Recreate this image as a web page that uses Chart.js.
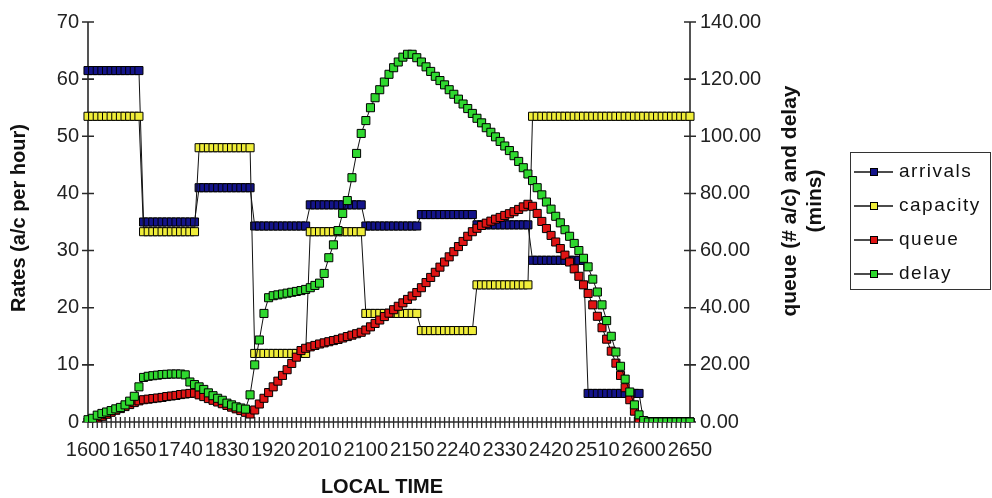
<!DOCTYPE html>
<html>
<head>
<meta charset="utf-8">
<script src="https://cdn.jsdelivr.net/npm/chart.js@4/dist/chart.umd.min.js"></script>
<style>
html,body{margin:0;padding:0;background:#fff;}
#wrap{width:992px;height:498px;}
</style>
</head>
<body>
<div id="wrap"><canvas id="c" width="992" height="498"></canvas></div>
<script>
// Local time categories (5-minute steps)
const timeLabels = [
'1600','1605','1610','1615','1620','1625','1630','1635','1640','1645','1650','1655',
'1700','1705','1710','1715','1720','1725','1730','1735','1740','1745','1750','1755',
'1800','1805','1810','1815','1820','1825','1830','1835','1840','1845','1850','1855',
'1900','1905','1910','1915','1920','1925','1930','1935','1940','1945','1950','1955',
'2000','2005','2010','2015','2020','2025','2030','2035','2040','2045','2050','2055',
'2100','2105','2110','2115','2120','2125','2130','2135','2140','2145','2150','2155',
'2200','2205','2210','2215','2220','2225','2230','2235','2240','2245','2250','2255',
'2300','2305','2310','2315','2320','2325','2330','2335','2340','2345','2350','2355',
'2400','2405','2410','2415','2420','2425','2430','2435','2440','2445','2450','2455',
'2500','2505','2510','2515','2520','2525','2530','2535','2540','2545','2550','2555',
'2600','2605','2610','2615','2620','2625','2630','2635','2640','2645','2650'
];

// Rates (a/c per hour) - left axis
const arrivals = [
61.5,61.5,61.5,61.5,61.5,61.5,61.5,61.5,61.5,61.5,61.5,61.5,
35,35,35,35,35,35,35,35,35,35,35,35,
41,41,41,41,41,41,41,41,41,41,41,41,
34.3,34.3,34.3,34.3,34.3,34.3,34.3,34.3,34.3,34.3,34.3,34.3,
38,38,38,38,38,38,38,38,38,38,38,38,
34.3,34.3,34.3,34.3,34.3,34.3,34.3,34.3,34.3,34.3,34.3,34.3,
36.3,36.3,36.3,36.3,36.3,36.3,36.3,36.3,36.3,36.3,36.3,36.3,
34.5,34.5,34.5,34.5,34.5,34.5,34.5,34.5,34.5,34.5,34.5,34.5,
28.3,28.3,28.3,28.3,28.3,28.3,28.3,28.3,28.3,28.3,28.3,28.3,
5,5,5,5,5,5,5,5,5,5,5,5,
0,0,0,0,0,0,0,0,0,0,0
];
const capacity = [
53.5,53.5,53.5,53.5,53.5,53.5,53.5,53.5,53.5,53.5,53.5,53.5,
33.3,33.3,33.3,33.3,33.3,33.3,33.3,33.3,33.3,33.3,33.3,33.3,
48,48,48,48,48,48,48,48,48,48,48,48,
12,12,12,12,12,12,12,12,12,12,12,12,
33.3,33.3,33.3,33.3,33.3,33.3,33.3,33.3,33.3,33.3,33.3,33.3,
19,19,19,19,19,19,19,19,19,19,19,19,
16,16,16,16,16,16,16,16,16,16,16,16,
24,24,24,24,24,24,24,24,24,24,24,24,
53.5,53.5,53.5,53.5,53.5,53.5,53.5,53.5,53.5,53.5,53.5,53.5,
53.5,53.5,53.5,53.5,53.5,53.5,53.5,53.5,53.5,53.5,53.5,53.5,
53.5,53.5,53.5,53.5,53.5,53.5,53.5,53.5,53.5,53.5,53.5
];

// queue (# a/c) and delay (mins) - right axis
const queue = [
0,0.7,1.4,2.0,2.7,3.4,4.1,4.7,5.4,6.1,6.8,7.4,
7.8,8.0,8.2,8.4,8.6,8.9,9.1,9.3,9.6,9.8,10.0,10.1,
9.5,8.9,8.2,7.6,7.0,6.4,5.8,5.2,4.6,4.0,3.4,2.8,
4.2,6.3,8.3,10.3,12.3,14.3,16.3,18.3,20.5,22.7,25.0,25.8,
26.3,26.8,27.3,27.7,28.1,28.5,28.9,29.4,29.9,30.4,30.9,31.4,
32.2,33.3,34.5,35.7,36.9,38.1,39.3,40.5,41.7,42.9,44.1,45.3,
47.0,48.8,50.6,52.4,54.2,56.0,57.8,59.6,61.4,63.2,65.0,66.6,
67.8,68.8,69.6,70.3,71.0,71.6,72.3,72.9,73.6,74.4,75.3,76.2,
75.5,73.0,70.2,67.7,65.3,63.0,60.7,58.4,56.0,53.6,51.0,48.0,
45.0,41.0,37.0,33.0,29.0,24.8,20.6,16.3,12.0,7.8,3.8,0.8,
0,0,0,0,0,0,0,0,0,0,0
];
const delay = [
0.8,1.3,2.4,3.0,3.5,4.0,4.6,5.1,6.0,7.3,9.0,12.3,
15.6,16.0,16.2,16.4,16.6,16.7,16.8,16.8,16.8,16.5,14.0,13.1,
12.3,11.4,10.2,9.2,8.3,7.6,6.6,6.0,5.3,4.9,4.5,9.5,
20.0,28.7,38.0,43.5,44.2,44.5,44.8,45.1,45.4,45.7,46.0,46.4,
47.0,47.8,48.6,52.0,57.5,62.0,67.0,73.0,77.5,85.5,94.0,101.0,
105.5,110.0,113.5,116.3,119.0,121.7,124.0,126.0,127.7,128.7,128.7,127.5,
126.0,124.3,122.7,121.0,119.5,118.0,116.3,114.7,113.0,111.3,109.7,108.0,
106.3,104.7,103.0,101.4,99.8,98.2,96.6,95.0,93.2,91.2,89.0,86.8,
84.5,82.0,79.5,77.0,74.5,72.0,69.7,67.3,65.0,62.5,60.0,57.3,
54.3,50.0,45.5,41.0,35.5,30.0,24.5,19.5,15.0,10.5,6.0,2.5,
0.5,0,0,0,0,0,0,0,0,0,0
];

const seriesNames = ['arrivals','capacity','queue','delay'];
const seriesColors = ['#14148a','#f0ee3a','#e01414','#2fd82f'];
const leftTitle = 'Rates (a/c per hour)';
const rightTitle1 = 'queue (# a/c) and delay';
const rightTitle2 = '(mins)';
const xTitle = 'LOCAL TIME';

const FONT = "'Liberation Sans', Arial, sans-serif";

const deco = {
  id: 'deco',
  beforeDatasetsDraw(chart) {
    const {ctx, chartArea: ca, scales} = chart;
    ctx.save();
    ctx.strokeStyle = '#2a2a2a';
    ctx.lineWidth = 1.6;
    ctx.beginPath();
    ctx.moveTo(ca.left, ca.top); ctx.lineTo(ca.left, ca.bottom);
    ctx.moveTo(ca.right, ca.top); ctx.lineTo(ca.right, ca.bottom);
    ctx.moveTo(ca.left, ca.bottom); ctx.lineTo(ca.right, ca.bottom);
    ctx.stroke();
    ctx.beginPath();
    scales.y.ticks.forEach(t => {
      const y = scales.y.getPixelForValue(t.value);
      ctx.moveTo(ca.left - 6, y); ctx.lineTo(ca.left + 6, y);
    });
    scales.y1.ticks.forEach(t => {
      const y = scales.y1.getPixelForValue(t.value);
      ctx.moveTo(ca.right - 6, y); ctx.lineTo(ca.right + 6, y);
    });
    ctx.stroke();
    ctx.lineWidth = 1.3;
    ctx.beginPath();
    scales.x.ticks.forEach((t, i) => {
      const x = scales.x.getPixelForTick(i);
      ctx.moveTo(x, ca.bottom - 5); ctx.lineTo(x, ca.bottom + 6);
    });
    ctx.stroke();
    ctx.restore();
  },
  afterDraw(chart) {
    const {ctx} = chart;
    ctx.save();
    ctx.fillStyle = '#111';
    ctx.textAlign = 'center';
    ctx.textBaseline = 'middle';
    ctx.font = 'bold 20px ' + FONT;
    // left title
    ctx.save(); ctx.translate(19, 218); ctx.rotate(-Math.PI / 2); ctx.fillText(leftTitle, 0, 0); ctx.restore();
    // right title (two lines)
    ctx.font = 'bold 21px ' + FONT;
    ctx.save(); ctx.translate(790, 201); ctx.rotate(-Math.PI / 2); ctx.fillText(rightTitle1, 0, 0); ctx.restore();
    ctx.save(); ctx.translate(815, 201); ctx.rotate(-Math.PI / 2); ctx.fillText(rightTitle2, 0, 0); ctx.restore();
    // x title
    ctx.font = 'bold 20px ' + FONT;
    ctx.fillText(xTitle, 382, 487);
    // legend
    ctx.strokeStyle = '#333';
    ctx.lineWidth = 1;
    ctx.strokeRect(850.5, 152.5, 140, 137);
    const rows = [172, 206, 240, 274];
    ctx.textAlign = 'left';
    ctx.font = '19px ' + FONT;
    try { ctx.letterSpacing = '1.5px'; } catch (e) {}
    seriesNames.forEach((name, k) => {
      const y = rows[k];
      ctx.strokeStyle = '#111';
      ctx.lineWidth = 1.5;
      ctx.beginPath(); ctx.moveTo(854, y); ctx.lineTo(893, y); ctx.stroke();
      ctx.fillStyle = seriesColors[k];
      ctx.fillRect(870.5, y - 3.5, 7, 7);
      ctx.lineWidth = 1;
      ctx.strokeStyle = '#000';
      ctx.strokeRect(870.5, y - 3.5, 7, 7);
      ctx.fillStyle = '#111';
      ctx.fillText(name, 899, y);
    });
    ctx.restore();
  }
};

function ds(k, data, axis, order) {
  return {
    label: seriesNames[k],
    data: data,
    yAxisID: axis,
    order: order,
    borderColor: '#111',
    borderWidth: 1,
    backgroundColor: seriesColors[k],
    pointStyle: 'rect',
    pointRadius: 5.7,
    pointBackgroundColor: seriesColors[k],
    pointBorderColor: '#000',
    pointBorderWidth: 1,
    tension: 0,
    fill: false
  };
}

new Chart(document.getElementById('c'), {
  type: 'line',
  data: {
    labels: timeLabels,
    datasets: [
      ds(0, arrivals, 'y', 3),
      ds(1, capacity, 'y', 2),
      ds(2, queue, 'y1', 1),
      ds(3, delay, 'y1', 0)
    ]
  },
  options: {
    responsive: false,
    animation: false,
    layout: {padding: {top: 22, left: 0, right: 0, bottom: 0}},
    plugins: {legend: {display: false}, tooltip: {enabled: false}},
    scales: {
      x: {
        type: 'category',
        offset: false,
        grid: {display: false, drawTicks: false},
        border: {display: false},
        ticks: {
          autoSkip: false, maxRotation: 0, minRotation: 0, padding: 16,
          color: '#222', font: {family: FONT, size: 20},
          callback: (v, i) => (i % 10 === 0 ? timeLabels[i] : '')
        },
        afterFit: s => { s.height = 76; }
      },
      y: {
        position: 'left', min: 0, max: 70,
        grid: {display: false, drawTicks: false},
        border: {display: false},
        ticks: {stepSize: 10, padding: 9, color: '#222', font: {family: FONT, size: 20}},
        afterFit: s => { s.width = 88; }
      },
      y1: {
        position: 'right', min: 0, max: 140,
        grid: {display: false, drawTicks: false},
        border: {display: false},
        ticks: {stepSize: 20, padding: 10, color: '#222', font: {family: FONT, size: 20},
          callback: v => Number(v).toFixed(2)},
        afterFit: s => { s.width = 302; }
      }
    }
  },
  plugins: [deco]
});
</script>
</body>
</html>
